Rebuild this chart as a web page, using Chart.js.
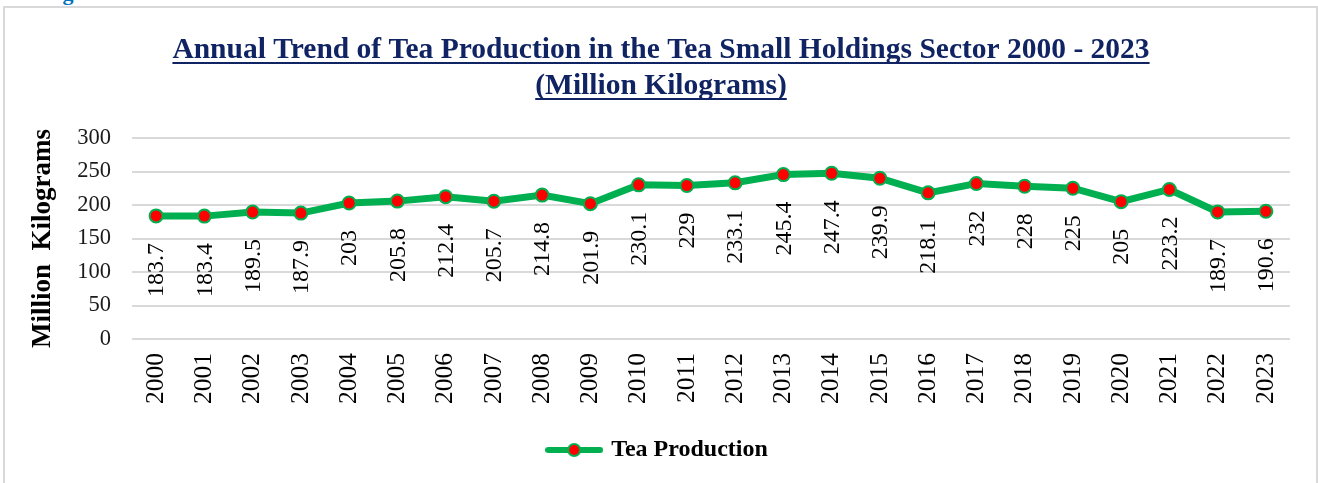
<!DOCTYPE html>
<html>
<head>
<meta charset="utf-8">
<script src="https://cdn.jsdelivr.net/npm/chart.js@4.4.1/dist/chart.umd.min.js"></script>
<style>
  body { margin:0; width:1318px; height:483px; overflow:hidden; background:#fff; position:relative; }
  #frame { position:absolute; left:3px; top:6px; width:1315px; height:520px; border:2px solid #d9d9d9; box-sizing:border-box; }
  #cut { position:absolute; left:43px; top:-18px; font:bold 22px "Liberation Serif", serif; line-height:22px; color:#0070C0; white-space:nowrap; }
  #wrap { position:absolute; left:0; top:0; width:1318px; height:483px; }
</style>
</head>
<body>
<div id="cut">Figure</div>
<div id="frame"></div>
<div id="wrap"><canvas id="myChart"></canvas></div>
<script>
var years = ['2000','2001','2002','2003','2004','2005','2006','2007','2008','2009','2010','2011',
             '2012','2013','2014','2015','2016','2017','2018','2019','2020','2021','2022','2023'];
// tea production, million kg
var production = [183.7,183.4,189.5,187.9,203,205.8,212.4,205.7,214.8,201.9,230.1,229,
                  233.1,245.4,247.4,239.9,218.1,232,228,225,205,223.2,189.7,190.6];
var yTicks = [0,50,100,150,200,250,300];
var titleLines = ['Annual Trend of Tea Production in the Tea Small Holdings Sector 2000 - 2023',
                  '(Million Kilograms)'];
var seriesName = 'Tea Production';
var yTitle = 'Million  Kilograms';

var serif = '"Liberation Serif", "Times New Roman", serif';
var green = '#00B050';
var navy = '#102463';

function $(id) { return document.getElementById(id); }

// little legend swatch: line with the dot on it
var swatch = document.createElement('canvas');
swatch.width = 58; swatch.height = 16;
var sc = swatch.getContext('2d');
sc.strokeStyle = green; sc.lineWidth = 6; sc.lineCap = 'round';
sc.beginPath(); sc.moveTo(3, 8); sc.lineTo(55, 8); sc.stroke();
sc.beginPath(); sc.arc(29, 8, 6, 0, Math.PI * 2);
sc.fillStyle = '#FF0000'; sc.fill();
sc.lineWidth = 2; sc.strokeStyle = green; sc.stroke();

var titlePlugin = {
  id: 'underTitle',
  afterDraw: function(chart) {
    var ctx = chart.ctx;
    ctx.save();
    ctx.font = 'bold 29.5px ' + serif;
    ctx.fillStyle = navy;
    ctx.strokeStyle = navy;
    ctx.textAlign = 'center';
    ctx.textBaseline = 'alphabetic';
    var cx = 661, base = [58, 94];
    for (var i = 0; i < titleLines.length; i++) {
      ctx.fillText(titleLines[i], cx, base[i]);
      var w = ctx.measureText(titleLines[i]).width;
      ctx.lineWidth = 2;
      ctx.beginPath();
      ctx.moveTo(cx - w / 2, base[i] + 5);
      ctx.lineTo(cx + w / 2, base[i] + 5);
      ctx.stroke();
    }
    ctx.restore();
  }
};

var labelPlugin = {
  id: 'valueLabels',
  afterDatasetsDraw: function(chart) {
    var ctx = chart.ctx;
    var pts = chart.getDatasetMeta(0).data;
    ctx.save();
    ctx.font = '24px ' + serif;
    ctx.fillStyle = '#000';
    ctx.textAlign = 'right';
    ctx.textBaseline = 'middle';
    for (var i = 0; i < pts.length; i++) {
      ctx.save();
      ctx.translate(pts[i].x, pts[i].y + 27);
      ctx.rotate(-Math.PI / 2);
      ctx.fillText(String(production[i]), 0, 1);
      ctx.restore();
    }
    ctx.restore();
  }
};

var myChart = new Chart($('myChart'), {
  type: 'line',
  data: {
    labels: years,
    datasets: [{
      label: seriesName,
      data: production,
      borderColor: green,
      borderWidth: 7,
      backgroundColor: '#FF0000',
      pointBackgroundColor: '#FF0000',
      pointBorderColor: green,
      pointBorderWidth: 2,
      pointRadius: 6.5,
      pointStyle: 'circle',
      tension: 0,
      fill: false
    }]
  },
  options: {
    responsive: true,
    maintainAspectRatio: false,
    animation: false,
    layout: { padding: { top: 138, left: 27, right: 28, bottom: 11 } },
    plugins: {
      tooltip: { enabled: false },
      legend: {
        position: 'bottom',
        labels: {
          usePointStyle: true,
          pointStyleWidth: 50,
          padding: 10,
          color: '#000',
          font: { family: serif, size: 24, weight: 'bold' },
          generateLabels: function(chart) {
            return [{ text: seriesName, pointStyle: swatch, fillStyle: green, strokeStyle: green, lineWidth: 0, datasetIndex: 0 }];
          }
        }
      }
    },
    scales: {
      x: {
        offset: true,
        grid: { display: false, drawTicks: false },
        border: { display: false },
        ticks: {
          color: '#000',
          font: { family: serif, size: 25.5 },
          minRotation: 90, maxRotation: 90,
          autoSkip: false,
          padding: 14
        },
        afterFit: function(s) { s.height = 89; }
      },
      y: {
        min: 0, max: 300,
        afterBuildTicks: function(s) { s.ticks = yTicks.map(function(v) { return { value: v }; }); },
        grid: { color: '#d9d9d9', lineWidth: 2, drawTicks: false },
        border: { display: false },
        ticks: { color: '#1a1a1a', font: { family: serif, size: 22.5 }, padding: 21 },
        title: {
          display: true,
          text: yTitle,
          color: '#000',
          font: { family: serif, size: 27, weight: 'bold' },
          padding: { top: 0, bottom: 0 }
        },
        afterFit: function(s) { s.width = 105; }
      }
    }
  },
  plugins: [titlePlugin, labelPlugin]
});
</script>
</body>
</html>
